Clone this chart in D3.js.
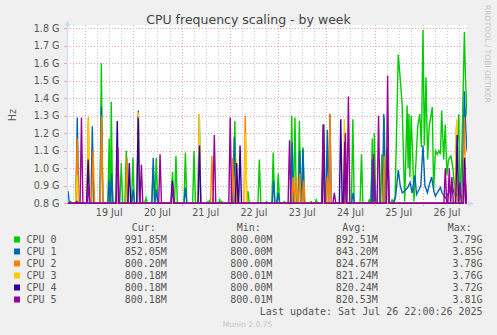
<!DOCTYPE html>
<html>
<head>
<meta charset="utf-8">
<script src="https://cdn.jsdelivr.net/npm/d3@7"></script>
<style>
  body { margin: 0; background: #f0f0f0; }
  svg { display: block; }
</style>
</head>
<body>
<svg id="svg" width="497" height="335"></svg>
<script>
// times are hours since 18 Jul 2025 00:00, values in GHz
var cpuNames = ['CPU 0', 'CPU 1', 'CPU 2', 'CPU 3', 'CPU 4', 'CPU 5'];
var baseFreq = 0.8;

var cpu0Spikes = [[16.8, 0.81], [32.1, 1.60], [36.0, 1.17], [37.0, 1.38], [42.0, 1.03], [44.5, 1.10],
  [47.8, 1.06], [54.3, 0.83], [57.9, 1.00], [59.4, 1.06], [67.5, 0.98], [69.2, 1.07], [73.9, 1.09],
  [78.2, 1.10], [85.1, 0.81], [86.0, 0.82], [91.0, 0.82], [92.0, 0.81], [98.5, 1.27], [105.0, 0.87],
  [110.7, 1.05], [114.3, 0.81], [117.6, 1.09], [120.1, 0.97], [123.1, 0.81], [126.8, 1.30],
  [128.4, 1.29], [130.6, 1.27], [132.4, 1.12], [136.5, 0.81], [139.0, 0.82], [142.8, 1.25],
  [157.2, 1.28], [161.5, 1.08], [165.4, 0.82], [166.9, 1.17], [167.9, 1.20], [171.6, 1.08],
  [172.8, 1.29], [176.7, 0.82]];
var cpu0Trace = [[178.2, 0.82], [179.8, 1.65], [180.8, 1.51], [181.7, 1.37], [183.0, 0.81],
  [184.2, 1.36], [184.7, 1.00], [185.1, 1.31], [185.6, 0.95], [186.2, 1.30], [187.0, 1.07],
  [187.6, 0.81], [189.5, 1.24], [190.5, 1.31], [191.3, 1.12], [192.1, 1.79], [192.8, 1.13],
  [193.6, 1.52], [194.4, 1.05], [195.2, 1.24], [196.7, 1.35], [197.4, 0.88], [198.3, 1.10],
  [199.2, 1.08], [200.0, 1.10], [200.8, 1.08], [201.4, 1.33], [202.4, 1.05], [203.2, 1.25],
  [204.0, 0.96], [204.8, 1.05], [206.0, 1.07], [207.0, 1.00], [208.0, 0.85], [209.9, 1.31],
  [210.5, 0.81], [211.3, 1.03], [212.7, 1.78], [213.3, 1.50], [214.0, 1.30]];

var cpu1Spikes = [[15.5, 0.87], [20.1, 1.29], [27.6, 1.24], [32.1, 1.35], [36.0, 0.93], [37.2, 0.97],
  [47.9, 0.88], [50.5, 1.33], [57.9, 1.06], [59.5, 0.88], [73.9, 0.89], [80.8, 1.31], [98.2, 1.18],
  [117.8, 0.93], [120.1, 0.86], [127.0, 1.15], [130.8, 1.10], [132.4, 1.11], [142.6, 1.12],
  [144.5, 1.22], [145.8, 1.31], [157.3, 0.86], [166.9, 1.05], [168.0, 0.94], [172.6, 1.31]];
var cpu1Trace = [[177.2, 0.80], [178.5, 0.84], [179.8, 0.99], [180.8, 0.90], [181.8, 0.86],
  [183.0, 0.87], [184.5, 0.89], [185.7, 0.92], [186.7, 0.86], [188.1, 0.96], [188.9, 0.85],
  [190.2, 0.88], [191.0, 0.90], [192.1, 1.13], [193.1, 0.90], [194.3, 0.86], [195.1, 0.90],
  [196.4, 0.95], [197.5, 0.87], [198.3, 0.84], [199.2, 0.86], [200.8, 0.89], [201.6, 0.86],
  [203.2, 0.83], [204.9, 0.86], [206.5, 0.90], [208.1, 0.84], [209.8, 0.86], [211.5, 0.83],
  [212.7, 1.44], [213.5, 1.20], [214.0, 1.10]];

var cpu2Spikes = [[20.1, 1.17], [25.6, 1.29], [28.0, 1.10], [32.2, 1.30], [44.9, 1.06], [87.1, 1.07],
  [97.4, 1.06], [98.8, 0.95], [103.7, 1.30], [127.5, 0.95], [128.9, 0.95], [130.8, 0.97],
  [132.8, 0.93], [144.5, 0.95], [145.8, 1.31], [168.0, 0.81], [172.8, 1.07], [208.7, 1.24],
  [212.7, 1.29]];
var cpu3Spikes = [[20.0, 0.96], [25.7, 1.28], [50.5, 1.32], [80.8, 1.31], [99.4, 1.05], [103.8, 1.20],
  [153.0, 1.28], [208.9, 1.28], [212.8, 1.08]];
var cpu4Spikes = [[19.9, 0.81], [25.5, 1.05], [40.0, 1.27], [46.0, 1.03], [50.4, 1.29], [67.4, 0.93],
  [80.9, 1.13], [99.4, 1.03], [101.1, 1.13], [142.6, 1.25], [151.2, 1.28], [153.2, 1.15],
  [174.6, 1.12], [209.1, 1.19], [212.8, 1.06]];
var cpu5Spikes = [[22.2, 1.29], [25.7, 0.90], [40.3, 1.12], [52.0, 1.02], [61.3, 1.08], [67.6, 0.90],
  [88.3, 1.19], [96.2, 1.29], [125.7, 1.16], [142.4, 1.25], [148.0, 0.86], [153.5, 1.20],
  [155.0, 1.41], [167.5, 1.08], [170.0, 1.30], [174.5, 1.53], [203.2, 1.00], [205.2, 1.00],
  [206.5, 0.95], [210.5, 0.92], [213.0, 1.00]];

var cpuSpikes = [cpu0Spikes, cpu1Spikes, cpu2Spikes, cpu3Spikes, cpu4Spikes, cpu5Spikes];
var cpuTraces = [cpu0Trace, cpu1Trace, [], [], [], []];

var yTicks = [0.8, 0.9, 1.0, 1.1, 1.2, 1.3, 1.4, 1.5, 1.6, 1.7, 1.8];
var legendCur = ['991.85M', '852.05M', '800.20M', '800.18M', '800.18M', '800.18M'];
var legendMin = ['800.00M', '800.00M', '800.00M', '800.01M', '800.00M', '800.01M'];
var legendAvg = ['892.51M', '843.20M', '824.67M', '821.24M', '820.24M', '820.53M'];
var legendMax = ['3.79G', '3.85G', '3.78G', '3.76G', '3.72G', '3.81G'];
var lastUpdate = 'Last update: Sat Jul 26 22:00:26 2025';

var colors = ['#00cc00', '#0066b3', '#ff8000', '#ffcc00', '#330099', '#990099'];

var t0 = new Date(2025, 6, 18, 0, 0, 0);
function hourToDate(h) { return new Date(t0.getTime() + h * 3600000); }

var svg = d3.select('svg');
var plotLeft = 67, plotRight = 467, plotTop = 25, plotBottom = 203.5;

var x = d3.scaleTime()
  .domain([hourToDate(15), hourToDate(214)])
  .range([plotLeft, plotRight]);
var y = d3.scaleLinear()
  .domain([0.8, 1.8])
  .range([203.3, 28.3]);

// canvas
svg.append('rect').attr('x', plotLeft).attr('y', plotTop)
  .attr('width', plotRight - plotLeft).attr('height', plotBottom - plotTop)
  .attr('fill', '#ffffff');

// vertical grid, every 6 hours, red at midnight
var gridTimes = d3.timeHour.every(6).range(x.domain()[0], x.domain()[1]);
gridTimes.forEach(function (d) {
  var major = d.getHours() === 0;
  var xx = Math.round(x(d)) + 0.5;
  svg.append('line')
    .attr('x1', xx).attr('x2', xx).attr('y1', plotTop).attr('y2', plotBottom + 2.5)
    .attr('stroke', major ? '#eea0a0' : '#c8c8c8')
    .attr('stroke-width', 1)
    .attr('stroke-dasharray', '1,2');
});

// horizontal grid
yTicks.forEach(function (v) {
  var yy = Math.round(y(v)) + 0.5;
  if (v > 0.8) {
    svg.append('line')
      .attr('x1', plotLeft).attr('x2', plotRight).attr('y1', yy).attr('y2', yy)
      .attr('stroke', '#eea0a0').attr('stroke-width', 1).attr('stroke-dasharray', '1,2');
  }
  svg.append('line')
    .attr('x1', plotLeft - 3).attr('x2', plotLeft).attr('y1', yy).attr('y2', yy)
    .attr('stroke', '#eea0a0').attr('stroke-width', 1);
  svg.append('text')
    .attr('x', 59.5).attr('y', y(v))
    .attr('dy', '0.35em')
    .attr('text-anchor', 'end')
    .style('font-family', 'DejaVu Sans')
    .style('font-size', '9.6px')
    .attr('fill', '#555')
    .text(d3.format('.1f')(v) + ' G');
});

// x labels at noon of each day
d3.timeDay.range(hourToDate(24), hourToDate(214)).forEach(function (d) {
  svg.append('text')
    .attr('x', x(d3.timeHour.offset(d, 12)))
    .attr('y', 212.5)
    .attr('dy', '0.35em')
    .attr('text-anchor', 'middle')
    .style('font-family', 'DejaVu Sans')
    .style('font-size', '9.6px')
    .attr('fill', '#555')
    .text(d3.timeFormat('%d %b')(d));
});

// series
svg.append('clipPath').attr('id', 'clip').append('rect')
  .attr('x', plotLeft).attr('y', plotTop)
  .attr('width', plotRight - plotLeft).attr('height', plotBottom - plotTop + 1);

var line = d3.line()
  .x(function (p) { return x(hourToDate(p[0])); })
  .y(function (p) { return y(p[1]); });

var plot = svg.append('g').attr('clip-path', 'url(#clip)');
cpuSpikes.forEach(function (spikes, i) {
  var pts = [];
  spikes.forEach(function (s) {
    pts.push([s[0] - 0.7, baseFreq], s, [s[0] + 0.7, baseFreq]);
  });
  pts = pts.concat(cpuTraces[i]);
  pts.sort(function (a, b) { return a[0] - b[0]; });
  pts.unshift([15, baseFreq]);
  if (pts[pts.length - 1][0] < 214) pts.push([214, baseFreq]);
  plot.append('path')
    .attr('d', line(pts))
    .attr('fill', 'none')
    .attr('stroke', colors[i])
    .attr('stroke-width', 1.4)
    .attr('stroke-linejoin', 'miter');
});

// axes with arrows
svg.append('line').attr('x1', plotLeft + 0.5).attr('x2', plotLeft + 0.5).attr('y1', plotBottom).attr('y2', 24)
  .attr('stroke', '#cfd6f8');
svg.append('path').attr('d', 'M' + (plotLeft - 2) + ',26 L' + (plotLeft + 3) + ',26 L' + (plotLeft + 0.5) + ',20 Z')
  .attr('fill', '#cfd6f8');
svg.append('path').attr('d', 'M' + (plotRight + 1) + ',' + (plotBottom - 2.5) + ' L' + (plotRight + 1) + ',' +
  (plotBottom + 2.5) + ' L' + (plotRight + 7) + ',' + plotBottom + ' Z')
  .attr('fill', '#cfd6f8');

// title and side texts
svg.append('text')
  .attr('x', 248.5).attr('y', 23.5)
  .attr('text-anchor', 'middle')
  .style('font-family', 'DejaVu Sans')
  .style('font-size', '12.5px')
  .attr('fill', '#444')
  .text('CPU frequency scaling - by week');

svg.append('text')
  .attr('transform', 'translate(15.5,115) rotate(-90)')
  .attr('text-anchor', 'middle')
  .style('font-family', 'DejaVu Sans')
  .style('font-size', '9.6px')
  .attr('fill', '#555')
  .text('Hz');

svg.append('text')
  .attr('transform', 'translate(485,5) rotate(90)')
  .style('font-family', 'DejaVu Sans')
  .style('font-size', '7.6px')
  .attr('fill', '#c4c4c4')
  .text('RRDTOOL / TOBI OETIKER');

// legend
var mono = 'DejaVu Sans Mono';
var headers = [['Cur:', 131.7], ['Min:', 236.7], ['Avg:', 342.3], ['Max:', 447.7]];
headers.forEach(function (h) {
  svg.append('text').attr('x', h[1]).attr('y', 227.7).attr('dy', '0.35em')
    .style('font-family', mono).style('font-size', '10px').attr('fill', '#555').text(h[0]);
});

var cols = [[legendCur, 166.8], [legendMin, 272.4], [legendAvg, 377.8], [legendMax, 482.6]];
cpuNames.forEach(function (name, i) {
  var ry = 239.5 + i * 12;
  svg.append('rect').attr('x', 14).attr('y', ry - 3).attr('width', 6).attr('height', 6)
    .attr('fill', colors[i]);
  svg.append('text').attr('x', 26.5).attr('y', ry).attr('dy', '0.35em')
    .style('font-family', mono).style('font-size', '10px').attr('fill', '#555').text(name);
  cols.forEach(function (c) {
    svg.append('text').attr('x', c[1]).attr('y', ry).attr('dy', '0.35em')
      .attr('text-anchor', 'end')
      .style('font-family', mono).style('font-size', '10px').attr('fill', '#555').text(c[0][i]);
  });
});

svg.append('text').attr('x', 482.6).attr('y', 311.5).attr('dy', '0.35em')
  .attr('text-anchor', 'end')
  .style('font-family', mono).style('font-size', '10px').attr('fill', '#555').text(lastUpdate);

svg.append('text').attr('x', 247.5).attr('y', 324).attr('dy', '0.35em')
  .attr('text-anchor', 'middle')
  .style('font-family', 'DejaVu Sans').style('font-size', '7.6px').attr('fill', '#c4c4c4')
  .text('Munin 2.0.75');
</script>
</body>
</html>
